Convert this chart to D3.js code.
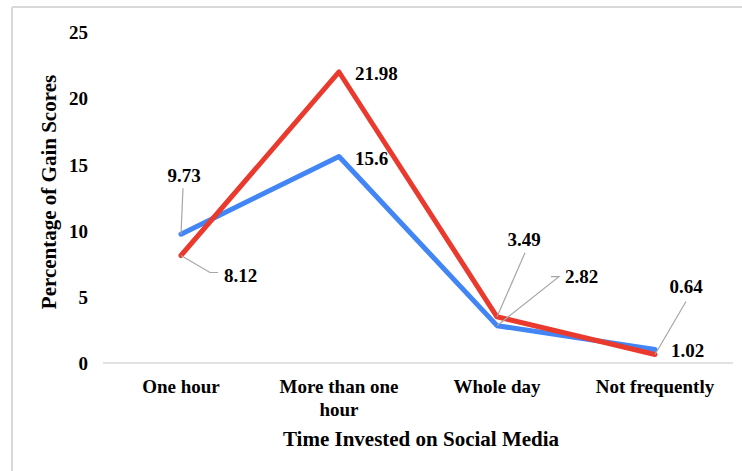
<!DOCTYPE html>
<html>
<head>
<meta charset="utf-8">
<script src="https://d3js.org/d3.v7.min.js"></script>
<style>
  html, body { margin: 0; padding: 0; background: #ffffff; }
  svg { display: block; }
  text { font-family: "Liberation Serif", "Times New Roman", serif; font-weight: bold; fill: #000; }
</style>
</head>
<body>
<svg id="chart" width="742" height="471"></svg>
<script>
// ---- data ----
const categories = ["One hour", "More than one hour", "Whole day", "Not frequently"];
const categoryLines = [["One hour"], ["More than one", "hour"], ["Whole day"], ["Not frequently"]];
const seriesBlue = [9.73, 15.6, 2.82, 1.02];
const seriesRed = [8.12, 21.98, 3.49, 0.64];
const yTicks = [0, 5, 10, 15, 20, 25];
const xTitle = "Time Invested on Social Media";
const yTitle = "Percentage of Gain Scores";

// ---- label layout (offsets from the point, px) ----
const blueLabelLayout = [
  { dx: 3, dy: -59, anchor: "middle", leader: [[2, -46]] },
  { dx: 16, dy: 2, anchor: "start", leader: null },
  { dx: 68, dy: -49, anchor: "start", leader: [[62, -49], [54, -49]] },
  { dx: 16, dy: 1, anchor: "start", leader: null }
];
const redLabelLayout = [
  { dx: 43, dy: 20, anchor: "start", leader: [[29, 17], [37, 17]] },
  { dx: 16, dy: 1, anchor: "start", leader: null },
  { dx: 27, dy: -77, anchor: "middle", leader: [[28, -64]] },
  { dx: 31, dy: -68, anchor: "middle", leader: [[31, -53]] }
];

const svg = d3.select("#chart");
const blueColor = "#4285F4";
const redColor = "#EA3A2E";
const gridColor = "#d9d9d9";
const leaderColor = "#a6a6a6";

// frame (partial border as in the reference)
svg.append("line").attr("x1", 12).attr("y1", 7).attr("x2", 742).attr("y2", 7)
  .attr("stroke", gridColor).attr("stroke-width", 2);
svg.append("line").attr("x1", 12).attr("y1", 7).attr("x2", 12).attr("y2", 471)
  .attr("stroke", gridColor).attr("stroke-width", 2);

const x = d3.scalePoint().domain(categories).range([102, 734]).padding(0.5);
const y = d3.scaleLinear().domain([0, 25]).range([363, 32]);

// baseline
svg.append("line").attr("x1", 103).attr("x2", 733)
  .attr("y1", y(0)).attr("y2", y(0))
  .attr("stroke", gridColor).attr("stroke-width", 1.5);

// y tick labels
const yAxis = d3.axisLeft(y).tickValues(yTicks).tickSize(0).tickPadding(0);
const gy = svg.append("g").attr("transform", "translate(88,0)").call(yAxis);
gy.select(".domain").remove();
gy.selectAll("text")
  .attr("font-family", null).attr("font-size", null)
  .style("font-size", "19px").attr("dy", "0.35em");

// x category labels
const gx = svg.append("g");
categories.forEach((c, i) => {
  const t = gx.append("text").attr("x", x(c)).attr("y", 393)
    .attr("text-anchor", "middle").style("font-size", "19px");
  categoryLines[i].forEach((ln, j) => {
    t.append("tspan").attr("x", x(c)).attr("dy", j === 0 ? 0 : 23).text(ln);
  });
});

// axis titles
svg.append("text").attr("x", 421).attr("y", 446).attr("text-anchor", "middle")
  .style("font-size", "21px").text(xTitle);
svg.append("text").attr("transform", "translate(56,192) rotate(-90)")
  .attr("text-anchor", "middle").style("font-size", "21px").text(yTitle);

// lines
const line = d3.line().x((d, i) => x(categories[i])).y(d => y(d));
[[seriesBlue, blueColor], [seriesRed, redColor]].forEach(([s, col]) => {
  svg.append("path").datum(s).attr("d", line)
    .attr("fill", "none").attr("stroke", col).attr("stroke-width", 5)
    .attr("stroke-linejoin", "round").attr("stroke-linecap", "round");
});

// data labels with leaders
function drawLabels(series, layout) {
  series.forEach((v, i) => {
    const px = x(categories[i]), py = y(v);
    const L = layout[i];
    if (L.leader) {
      const pts = [[px, py]].concat(L.leader.map(p => [px + p[0], py + p[1]]));
      if (L.leader.length === 1) pts.reverse();
      svg.append("path").attr("d", d3.line()(pts))
        .attr("fill", "none").attr("stroke", leaderColor).attr("stroke-width", 1.2);
    }
    svg.append("text").attr("x", px + L.dx).attr("y", py + L.dy)
      .attr("dy", "0.35em").attr("text-anchor", L.anchor)
      .style("font-size", "19px").text(String(v));
  });
}
drawLabels(seriesBlue, blueLabelLayout);
drawLabels(seriesRed, redLabelLayout);
</script>
</body>
</html>
